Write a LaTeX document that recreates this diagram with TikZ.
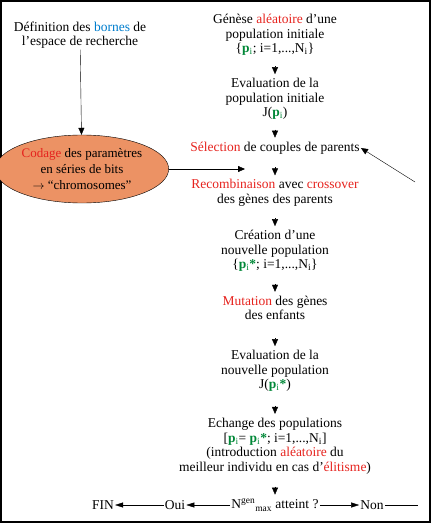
\documentclass[tikz,border=0pt]{standalone}
\usepackage{fontspec}
\setmainfont{Liberation Serif}
\usetikzlibrary{shapes.geometric, arrows.meta}
\definecolor{rouge}{RGB}{230,35,30}
\definecolor{bleu}{RGB}{0,125,205}
\definecolor{vert}{RGB}{0,135,55}
\definecolor{saumon}{RGB}{236,146,100}
\newcommand{\pvi}{\textcolor{vert}{\textbf{p}\textsubscript{i}}}
\newcommand{\pvs}{\textcolor{vert}{\textbf{p}\textsubscript{i}\textbf{*}}}
\tikzstyle{txt}=[align=center, inner sep=1pt, font=\fontsize{13.5}{14.5}\selectfont]
\tikzstyle{fl}=[-{Triangle[width=6pt,length=7pt]}]
\tikzstyle{fg}=[-{Triangle[width=5pt,length=8pt]}]
\begin{document}
\begin{tikzpicture}[x=1pt, y=-1pt]
\useasboundingbox (0,0) rectangle (432,524);
\draw[line width=1.3pt] (1,1) rectangle (430,522);
\node at (80,35)[txt](bornes){D\'efinition des \textcolor{bleu}{bornes} de\\l’espace de recherche};
\node at (82,169)[ellipse, draw, fill=saumon, minimum width=152pt, minimum height=68pt, inner sep=0, txt, font=\fontsize{13}{16}\selectfont](codage){\textcolor{rouge}{Codage} des param\`etres\\en s\'eries de bits\\$\rightarrow$ “chromosomes”};
\node at (275,35)[txt](genese){G\'en\`ese \textcolor{rouge}{al\'eatoire} d’une\\population initiale\\\{\pvi; i=1,...,N\textsubscript{i}\}};
\node at (275,99)[txt](evalinit){Evaluation de la\\population initiale\\J(\pvi)};
\node at (275,148)[txt](selection){\textcolor{rouge}{S\'election} de couples de parents};
\node at (275,193)[txt](recomb){\textcolor{rouge}{Recombinaison} avec \textcolor{rouge}{crossover}\\des g\`enes des parents};
\node at (275,251)[txt](creation){Cr\'eation d’une\\nouvelle population\\\{\pvs; i=1,...,N\textsubscript{i}\}};
\node at (275,308)[txt](mutation){\textcolor{rouge}{Mutation} des g\`enes\\des enfants};
\node at (275,371)[txt](evalnew){Evaluation de la\\nouvelle population\\J(\pvs)};
\node at (275,446)[txt](echange){Echange des populations\\{}[\pvi= \pvs; i=1,...,N\textsubscript{i}]\\(introduction \textcolor{rouge}{al\'eatoire} du\\meilleur individu en cas d’\textcolor{rouge}{\'elitisme})};
\node at (275,505)[txt](test){N\textsuperscript{gen}\textsubscript{max} atteint ?};
\node at (175,505)[txt](oui){Oui};
\node at (103,505)[txt](fin){FIN};
\node at (372,505)[txt](non){Non};
\coordinate (codfin) at (245,169);
\coordinate (retour) at (415,182);
\coordinate (nonfin) at (418,505);
\foreach \b in {evalinit, selection, recomb, creation, mutation, evalnew, echange, test} {\draw[fl] ([yshift=11pt]\b.north) -- ([yshift=3pt]\b.north);}
\draw[fl] (bornes) -- (codage);
\draw[fl] (codage) -- (codfin);
\draw[fl] (retour) -- (selection.east);
\draw[fg] (test) -- (oui);
\draw[fg] (oui) -- (fin);
\draw[fg] (test) -- (non);
\draw (non) -- (nonfin);
\end{tikzpicture}
\end{document}
